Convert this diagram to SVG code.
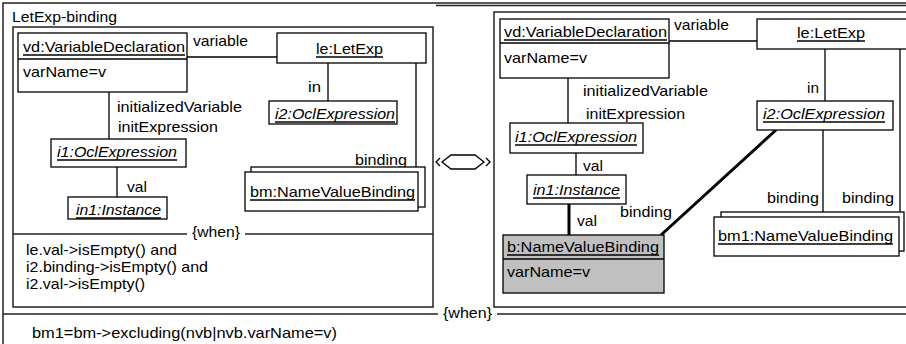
<svg xmlns="http://www.w3.org/2000/svg" width="906" height="344" viewBox="0 0 906 344">
<style>
text{font-family:"Liberation Sans",Arial,sans-serif;font-size:15px;fill:#000}
.it{font-style:italic}
.b{fill:#fff;stroke:#000;stroke-width:1.3}
.g{fill:#c0c0c0;stroke:#000;stroke-width:1.3}
.ln{stroke:#000;stroke-width:1.3;fill:none}
.fr{stroke:#222;stroke-width:1.5;fill:none}
.th{stroke:#000;stroke-width:3;fill:none}
.u{stroke:#000;stroke-width:1.4}
</style>
<rect width="906" height="344" fill="#fff"/>
<g id="frames">
<path class="fr" d="M3,344V3H906M436,5.5H906"/>
<rect class="fr" x="13" y="27" width="420" height="280"/>
<path class="fr" d="M906,12H494V307H906"/>
<path class="fr" d="M13,234H187M245,234H433"/>
<path class="fr" d="M3,314H438M497,314H906"/>
<text x="12" y="22" textLength="105" lengthAdjust="spacingAndGlyphs">LetExp-binding</text>
<text x="192" y="237" textLength="48" lengthAdjust="spacingAndGlyphs">{when}</text>
<text x="443" y="318" textLength="49" lengthAdjust="spacingAndGlyphs">{when}</text>
<text x="26" y="255" textLength="151" lengthAdjust="spacingAndGlyphs">le.val-&gt;isEmpty() and</text>
<text x="26" y="272" textLength="182" lengthAdjust="spacingAndGlyphs">i2.binding-&gt;isEmpty() and</text>
<text x="26" y="289" textLength="119" lengthAdjust="spacingAndGlyphs">i2.val-&gt;isEmpty()</text>
<text x="32" y="338" textLength="305" lengthAdjust="spacingAndGlyphs">bm1=bm-&gt;excluding(nvb|nvb.varName=v)</text>
</g>
<g id="transform-symbol">
<polygon class="ln" points="442,162 451,155 475,155 484,162 475,169 451,169"/>
<polyline class="ln" points="440,158 436,162 440,166" stroke-width="1"/>
<polyline class="ln" points="486,158 490,162 486,166" stroke-width="1"/>
</g>
<g id="connectors">
<path class="ln" d="M187,57H277M328,63V101M416,63V167M109,92V139M117,167V197"/>
<path class="ln" d="M669,41H757M825,49V101M900,49V212M823,130V212M568,78V123M576,153V175"/>
<path class="th" d="M569,204V235M776,130L661,235"/>
<text x="193" y="46" textLength="55" lengthAdjust="spacingAndGlyphs">variable</text>
<text x="308" y="92" textLength="13" lengthAdjust="spacingAndGlyphs">in</text>
<text x="355" y="165" textLength="52" lengthAdjust="spacingAndGlyphs">binding</text>
<text x="117" y="112" textLength="125" lengthAdjust="spacingAndGlyphs">initializedVariable</text>
<text x="118" y="132" textLength="100" lengthAdjust="spacingAndGlyphs">initExpression</text>
<text x="127" y="192" textLength="20" lengthAdjust="spacingAndGlyphs">val</text>
<text x="674" y="30" textLength="55" lengthAdjust="spacingAndGlyphs">variable</text>
<text x="807" y="93" textLength="12" lengthAdjust="spacingAndGlyphs">in</text>
<text x="583" y="96" textLength="125" lengthAdjust="spacingAndGlyphs">initializedVariable</text>
<text x="586" y="119" textLength="99" lengthAdjust="spacingAndGlyphs">initExpression</text>
<text x="583" y="171" textLength="20" lengthAdjust="spacingAndGlyphs">val</text>
<text x="577" y="226" textLength="20" lengthAdjust="spacingAndGlyphs">val</text>
<text x="620" y="217" textLength="52" lengthAdjust="spacingAndGlyphs">binding</text>
<text x="767" y="203" textLength="52" lengthAdjust="spacingAndGlyphs">binding</text>
<text x="842" y="203" textLength="52" lengthAdjust="spacingAndGlyphs">binding</text>
</g>
<g id="lhs-vd">
<rect class="b" x="18" y="33" width="169" height="59"/>
<line class="u" x1="18" y1="59" x2="187" y2="59"/>
<text x="23" y="52" textLength="162" lengthAdjust="spacingAndGlyphs">vd:VariableDeclaration</text>
<line class="u" x1="23" y1="55" x2="185" y2="55"/>
<text x="23" y="77" textLength="83" lengthAdjust="spacingAndGlyphs">varName=v</text>
</g>
<g id="lhs-le">
<rect class="b" x="277" y="33" width="149" height="30"/>
<text x="316" y="54" textLength="67" lengthAdjust="spacingAndGlyphs">le:LetExp</text>
<line class="u" x1="316" y1="57" x2="383" y2="57"/>
</g>
<g id="lhs-i2">
<rect class="b" x="269" y="101" width="128" height="23"/>
<text class="it" x="275" y="119" textLength="120" lengthAdjust="spacingAndGlyphs">i2:OclExpression</text>
<line class="u" x1="275" y1="122" x2="395" y2="122"/>
</g>
<g id="lhs-i1">
<rect class="b" x="51" y="139" width="135" height="28"/>
<text class="it" x="57" y="157" textLength="120" lengthAdjust="spacingAndGlyphs">i1:OclExpression</text>
<line class="u" x1="57" y1="160" x2="177" y2="160"/>
</g>
<g id="lhs-in1">
<rect class="b" x="68" y="197" width="99" height="22"/>
<text class="it" x="76" y="215" textLength="85" lengthAdjust="spacingAndGlyphs">in1:Instance</text>
<line class="u" x1="76" y1="218" x2="161" y2="218"/>
</g>
<g id="lhs-bm">
<rect class="b" x="251" y="167" width="174" height="40"/>
<rect class="b" x="245" y="172" width="173" height="39"/>
<text x="250" y="197" textLength="165" lengthAdjust="spacingAndGlyphs">bm:NameValueBinding</text>
<line class="u" x1="250" y1="200" x2="415" y2="200"/>
</g>
<g id="rhs-vd">
<rect class="b" x="500" y="19" width="169" height="59"/>
<line class="u" x1="500" y1="43" x2="669" y2="43"/>
<text x="504" y="37" textLength="163" lengthAdjust="spacingAndGlyphs">vd:VariableDeclaration</text>
<line class="u" x1="504" y1="40" x2="667" y2="40"/>
<text x="504" y="63" textLength="83" lengthAdjust="spacingAndGlyphs">varName=v</text>
</g>
<g id="rhs-le">
<rect class="b" x="757" y="19" width="160" height="30"/>
<text x="797" y="38" textLength="68" lengthAdjust="spacingAndGlyphs">le:LetExp</text>
<line class="u" x1="797" y1="41" x2="865" y2="41"/>
</g>
<g id="rhs-i2">
<rect class="b" x="757" y="101" width="136" height="29"/>
<text class="it" x="763" y="119" textLength="122" lengthAdjust="spacingAndGlyphs">i2:OclExpression</text>
<line class="u" x1="763" y1="122" x2="885" y2="122"/>
</g>
<g id="rhs-i1">
<rect class="b" x="510" y="123" width="133" height="30"/>
<text class="it" x="515" y="142" textLength="122" lengthAdjust="spacingAndGlyphs">i1:OclExpression</text>
<line class="u" x1="515" y1="145" x2="637" y2="145"/>
</g>
<g id="rhs-in1">
<rect class="b" x="527" y="175" width="99" height="29"/>
<text class="it" x="533" y="195" textLength="87" lengthAdjust="spacingAndGlyphs">in1:Instance</text>
<line class="u" x1="533" y1="198" x2="620" y2="198"/>
</g>
<g id="rhs-b">
<rect class="g" x="503" y="235" width="161" height="58"/>
<line class="u" x1="503" y1="259" x2="664" y2="259"/>
<text x="507" y="252" textLength="152" lengthAdjust="spacingAndGlyphs">b:NameValueBinding</text>
<line class="u" x1="507" y1="255" x2="659" y2="255"/>
<text x="507" y="277" textLength="83" lengthAdjust="spacingAndGlyphs">varName=v</text>
</g>
<g id="rhs-bm1">
<rect class="b" x="721" y="212" width="183" height="39"/>
<rect class="b" x="714" y="217" width="185" height="39"/>
<text x="718" y="241" textLength="175" lengthAdjust="spacingAndGlyphs">bm1:NameValueBinding</text>
<line class="u" x1="718" y1="244" x2="893" y2="244"/>
</g>
</svg>
